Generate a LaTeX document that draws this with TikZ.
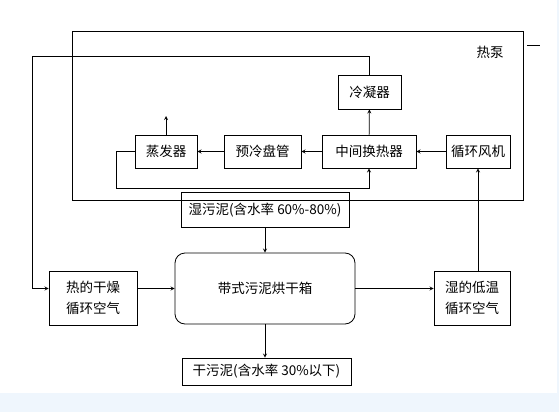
\documentclass[tikz,border=0pt]{standalone}
\usepackage{fontspec}
\newfontfamily\cjk{Noto Sans CJK SC}
\usepackage{tikz}
\usetikzlibrary{positioning}
\definecolor{bgblue}{HTML}{EFF6FD}

\begin{document}
\begin{tikzpicture}[x=1pt, y=-1pt, line width=0.8pt, >=stealth,
  box/.style={draw, inner sep=0pt, font=\cjk\fontsize{13.5}{21}\selectfont, align=center}] % 方框样式
  \fill[bgblue] (0,0) rectangle (559,412); % 背景
  \fill[white] (0,0) rectangle (557,393);
  \useasboundingbox (0,0) rectangle (559,412);

  \draw (72,31) rectangle (523,200); % 热泵外框
  \node[font=\cjk\fontsize{13.5}{16}\selectfont] (hp) at (490,52) {热泵};
  \draw (527,45) -- (540,45);

  % 热泵内部
  \node[box, minimum width=63, minimum height=34] (cond) at (369.5,92) {冷凝器};
  \node[box, minimum width=62, minimum height=33] (evap) at (166,151.5) {蒸发器};
  \node[box, minimum width=77, minimum height=33] (precool) at (262.5,151.5) {预冷盘管};
  \node[box, minimum width=94, minimum height=33] (hx) at (369,151.5) {中间换热器};
  \node[box, minimum width=64, minimum height=33] (fan) at (478,151.5) {循环风机};

  % 烘干部分
  \node[box, minimum width=168, minimum height=35] (wet) at (265,210) {湿污泥(含水率 60\%-80\%)};
  \node[box, rounded corners=10pt, minimum width=180, minimum height=71] (dryer) at (265,288.5) {带式污泥烘干箱};
  \node[box, minimum width=88, minimum height=54] (hot) at (93,298) {热的干燥\\循环空气};
  \node[box, minimum width=76, minimum height=54] (cold) at (472,298) {湿的低温\\循环空气};
  \node[box, minimum width=169, minimum height=27] (dry) at (266.5,371.5) {干污泥(含水率 30\%以下)};

  \coordinate (vent) at (166,116); % 排出口
  \coordinate (tl) at (32,56); % 左上拐点
  \coordinate (bl) at (116,188); % 下方拐点

  \draw[->] (fan) -- (hx);
  \draw[->] (hx) -- (precool);
  \draw[->] (precool) -- (evap);
  \draw[->] (hx) -- (cond);
  \draw[->] (evap) -- (vent);
  \draw[->] (evap.west) -| (bl) -| (hx.south); % 回路
  \draw[->] (cond.north) |- (tl) |- (hot.west |- dryer.west); % 热风回路
  \draw[->] (hot.east |- dryer.west) -- (dryer.west);
  \draw[->] (dryer.east) -- (cold.west |- dryer.east);
  \draw[->] (cold.north -| fan.south) -- (fan.south);
  \draw[->] (wet.south) -- (wet.south |- dryer.north);
  \draw[->] (dryer.south) -- (dryer.south |- dry.north);
\end{tikzpicture}
\end{document}
